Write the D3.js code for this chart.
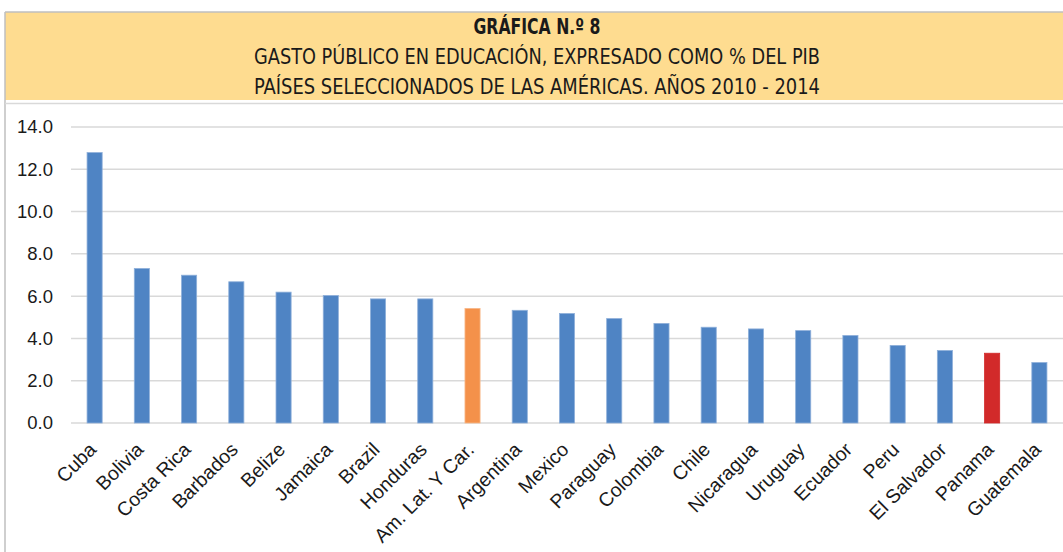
<!DOCTYPE html>
<html>
<head>
<meta charset="utf-8">
<script src="https://cdn.jsdelivr.net/npm/d3@7"></script>
<style>
  html, body { margin: 0; padding: 0; background: #fff; }
  svg { display: block; }
</style>
</head>
<body>
<div id="chart"></div>
<script>
// data
const countries = ["Cuba", "Bolivia", "Costa Rica", "Barbados", "Belize", "Jamaica", "Brazil",
  "Honduras", "Am. Lat. Y Car.", "Argentina", "Mexico", "Paraguay", "Colombia", "Chile",
  "Nicaragua", "Uruguay", "Ecuador", "Peru", "El Salvador", "Panama", "Guatemala"];
const gasto = [12.79, 7.31, 6.99, 6.68, 6.19, 6.03, 5.87, 5.87, 5.42, 5.33, 5.18, 4.94, 4.71, 4.53,
  4.45, 4.37, 4.14, 3.67, 3.43, 3.30, 2.86];
const yTicks = [0, 2, 4, 6, 8, 10, 12, 14];
const titleLines = ["GRÁFICA N.º 8",
  "GASTO PÚBLICO EN EDUCACIÓN, EXPRESADO COMO % DEL PIB",
  "PAÍSES SELECCIONADOS DE LAS AMÉRICAS. AÑOS 2010 - 2014"];

const width = 1063, height = 552;
const margin = {top: 127, right: 0, bottom: 129, left: 71};

const svg = d3.select("#chart").append("svg")
  .attr("width", width)
  .attr("height", height);

// frame + header
svg.append("rect")
  .attr("x", 5).attr("y", 12)
  .attr("width", width - 5).attr("height", 88)
  .attr("fill", "#FEDC90");
svg.append("line")
  .attr("x1", 5).attr("x2", width).attr("y1", 12).attr("y2", 12)
  .attr("stroke", "#BFBFBF").attr("stroke-width", 1.5);
svg.append("line")
  .attr("x1", 5).attr("x2", 5).attr("y1", 12).attr("y2", height)
  .attr("stroke", "#BFBFBF").attr("stroke-width", 1.5);
svg.append("line")
  .attr("x1", 5).attr("x2", width).attr("y1", 103.5).attr("y2", 103.5)
  .attr("stroke", "#D9D9D9").attr("stroke-width", 1.5);

const titleW = [127, 566, 566];
titleLines.forEach((t, i) => {
  svg.append("text")
    .attr("x", 537)
    .attr("y", 34 + i * 30)
    .attr("text-anchor", "middle")
    .attr("font-family", "'Liberation Sans Narrow', 'DejaVu Sans Condensed', 'Roboto Condensed', sans-serif")
    .attr("font-size", "22px")
    .attr("font-weight", i === 0 ? "bold" : "normal")
    .attr("fill", "#1a1a1a")
    .attr("textLength", titleW[i])
    .attr("lengthAdjust", "spacingAndGlyphs")
    .text(t);
});

const x = d3.scaleBand()
  .domain(countries)
  .range([margin.left, width - margin.right])
  .paddingInner(0.68)
  .paddingOuter(0.34);

const y = d3.scaleLinear()
  .domain([0, 14])
  .range([height - margin.bottom, margin.top]);

// gridlines
svg.append("g")
  .selectAll("line")
  .data(yTicks)
  .join("line")
  .attr("x1", margin.left)
  .attr("x2", width)
  .attr("y1", d => y(d))
  .attr("y2", d => y(d))
  .attr("stroke", "#D9D9D9")
  .attr("stroke-width", 1.5);

// y axis labels
const yAxis = d3.axisLeft(y)
  .tickValues(yTicks)
  .tickFormat(d3.format(".1f"))
  .tickSize(0)
  .tickPadding(18);
const gy = svg.append("g")
  .attr("transform", `translate(${margin.left},0)`)
  .call(yAxis);
gy.select(".domain").remove();
gy.selectAll("text")
  .attr("font-family", "'Liberation Sans', Arial, sans-serif")
  .attr("font-size", "18.5px")
  .attr("fill", "#1a1a1a");

// bar colours: blue default, orange for the regional average, red for Panama
const colorOf = (c) => c === "Am. Lat. Y Car." ? "#F4914A" : (c === "Panama" ? "#D22A2A" : "#4F84C4");
const strokeOf = (c) => c === "Am. Lat. Y Car." ? "#F8B98A" : (c === "Panama" ? "#D22A2A" : "#8FB0DA");

svg.append("g")
  .selectAll("rect")
  .data(countries)
  .join("rect")
  .attr("x", d => x(d))
  .attr("y", (d, i) => y(gasto[i]))
  .attr("width", x.bandwidth())
  .attr("height", (d, i) => y(0) - y(gasto[i]))
  .attr("fill", d => colorOf(d))
  .attr("stroke", d => strokeOf(d))
  .attr("stroke-width", 0.8);

// x axis labels, rotated
const xAxis = d3.axisBottom(x).tickSize(0).tickPadding(0);
const gx = svg.append("g")
  .attr("transform", `translate(0,${y(0)})`)
  .call(xAxis);
gx.select(".domain").remove();
gx.selectAll("text")
  .attr("font-family", "'Liberation Sans', Arial, sans-serif")
  .attr("font-size", "19.5px")
  .attr("fill", "#1a1a1a")
  .attr("text-anchor", "end")
  .attr("dy", "0.35em")
  .attr("transform", "translate(-2,23) rotate(-45)");
</script>
</body>
</html>
